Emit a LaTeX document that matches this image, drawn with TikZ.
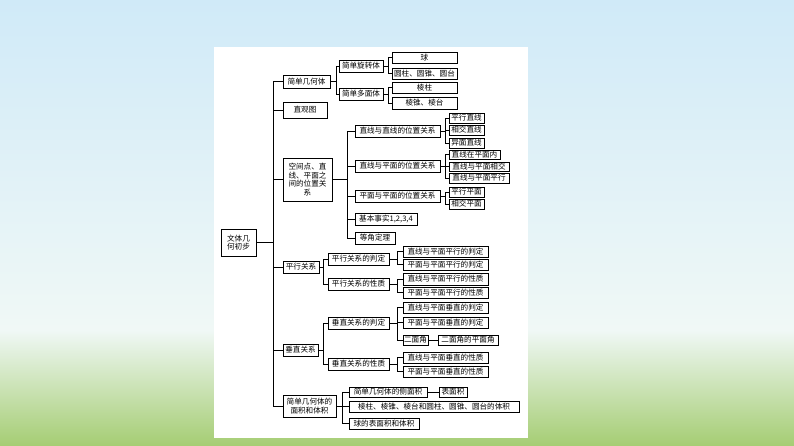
\documentclass[tikz,border=0pt]{standalone}
\usepackage{fontspec}
\setmainfont{Noto Sans CJK SC}
\begin{document}
\begin{tikzpicture}[x=1pt,y=-1pt,
  bx/.style={draw,line width=0.7pt,inner sep=0pt,font=\fontsize{7.6}{8.6}\selectfont,align=center},
  ln/.style={line width=0.5pt}]
\useasboundingbox (0,0) rectangle (794,446);
\shade[top color={rgb,255:red,208;green,234;blue,248}, bottom color={rgb,255:red,240;green,248;blue,246}] (0,0) rectangle (794,330);
\shade[top color={rgb,255:red,240;green,248;blue,246}, bottom color={rgb,255:red,165;green,205;blue,115}] (0,330) rectangle (794,446);
\fill[white] (214,47) rectangle (528,438);
\newcommand\bx[6]{\node[bx,minimum width={#4-#2},minimum height={#5-#3}] (#1) at ({(#2+#4)/2},{(#3+#5)/2}) {#6};}
\newcommand\fan[3]{\coordinate (T) at (#2,0);
  \foreach \c in {#3}{\draw[ln] (\c.west) -- (\c.west -| T) -- (#1.east -| T) -- (#1.east);}}
\bx{root}{221}{229}{256}{256}{文体几\\何初步}
\bx{a}{283}{75}{330}{88}{简单几何体}
\bx{b}{283}{102}{327}{118}{直观图}
\bx{c}{283}{158}{332}{201}{空间点、直\\线、平面之\\间的位置关\\系}
\bx{d}{283}{261}{319}{273}{平行关系}
\bx{e}{283}{344}{318}{356}{垂直关系}
\bx{f}{283}{395}{336}{417}{简单几何体的\\面积和体积}
\fan{root}{273}{a,b,c,d,e,f}
% a
\bx{a1}{339}{60}{383}{72}{简单旋转体}
\bx{a2}{339}{88}{383}{100}{简单多面体}
\fan{a}{336}{a1,a2}
\bx{a11}{392}{52}{457}{63}{球}
\bx{a12}{392}{68}{457}{79}{圆柱、圆锥、圆台}
\bx{a21}{392}{82}{457}{93}{棱柱}
\bx{a22}{392}{97}{457}{109}{棱锥、棱台}
\fan{a1}{388}{a11,a12}
\fan{a2}{388}{a21,a22}
% c
\bx{c1}{355}{125}{440}{137}{直线与直线的位置关系}
\bx{c2}{355}{160}{440}{172}{直线与平面的位置关系}
\bx{c3}{355}{190}{440}{202}{平面与平面的位置关系}
\bx{c4}{355}{213}{417}{225}{基本事实1,2,3,4}
\bx{c5}{355}{232}{395}{244}{等角定理}
\fan{c}{347}{c1,c2,c3,c4,c5}
\bx{c11}{449}{113}{484}{123}{平行直线}
\bx{c12}{449}{125}{484}{135}{相交直线}
\bx{c13}{449}{138}{484}{148}{异面直线}
\bx{c21}{449}{150}{500}{159}{直线在平面内}
\bx{c22}{449}{162}{509}{171}{直线与平面相交}
\bx{c23}{449}{173}{509}{183}{直线与平面平行}
\bx{c31}{449}{187}{484}{197}{平行平面}
\bx{c32}{449}{199}{484}{209}{相交平面}
\fan{c1}{445}{c11,c12,c13}
\fan{c2}{445}{c21,c22,c23}
\fan{c3}{445}{c31,c32}
% d
\bx{d1}{328}{253}{389}{265}{平行关系的判定}
\bx{d2}{328}{278}{389}{290}{平行关系的性质}
\fan{d}{323}{d1,d2}
\bx{d11}{403}{246}{488}{257}{直线与平面平行的判定}
\bx{d12}{403}{259}{488}{270}{平面与平面平行的判定}
\bx{d21}{403}{273}{488}{285}{直线与平面平行的性质}
\bx{d22}{403}{287}{488}{298}{平面与平面平行的性质}
\fan{d1}{397}{d11,d12}
\fan{d2}{397}{d21,d22}
% e
\bx{e1}{328}{317}{389}{329}{垂直关系的判定}
\bx{e2}{328}{358}{389}{370}{垂直关系的性质}
\fan{e}{323}{e1,e2}
\bx{e11}{403}{302}{488}{313}{直线与平面垂直的判定}
\bx{e12}{403}{317}{488}{328}{平面与平面垂直的判定}
\bx{e13}{403}{335}{428}{345}{二面角}
\bx{e14}{438}{335}{498}{345}{二面角的平面角}
\bx{e21}{403}{352}{488}{363}{直线与平面垂直的性质}
\bx{e22}{403}{366}{488}{377}{平面与平面垂直的性质}
\fan{e1}{397}{e11,e12,e13}
\fan{e2}{397}{e21,e22}
\draw[ln] (e13) -- (e14);
% f
\bx{f1}{349}{387}{427}{397}{简单几何体的侧面积}
\bx{f2}{439}{387}{467}{397}{表面积}
\bx{f3}{349}{401}{519}{412}{棱柱、棱锥、棱台和圆柱、圆锥、圆台的体积}
\bx{f4}{349}{418}{419}{429}{球的表面积和体积}
\fan{f}{342}{f1,f3,f4}
\draw[ln] (f1) -- (f2);
\end{tikzpicture}
\end{document}
